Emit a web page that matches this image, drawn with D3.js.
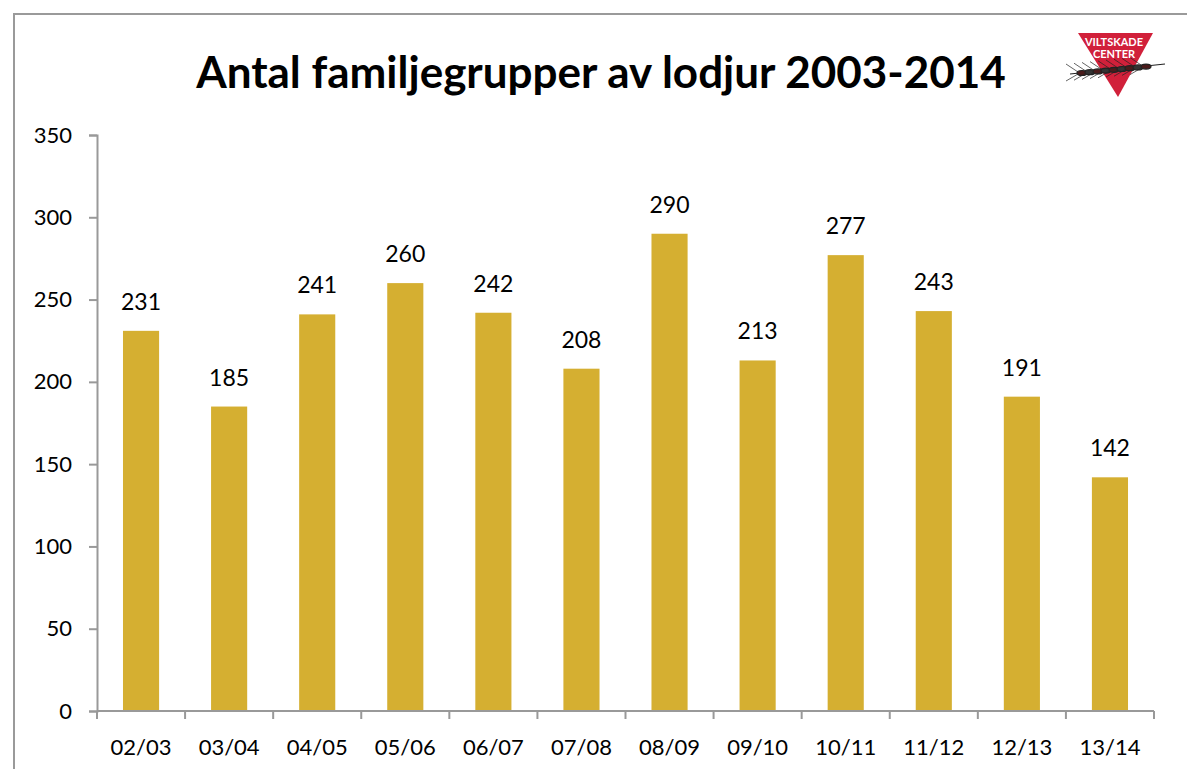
<!DOCTYPE html>
<html><head><meta charset="utf-8">
<script src="https://cdn.jsdelivr.net/npm/d3@7"></script>
<style>body{margin:0;background:#fff}svg{display:block}</style>
</head><body>
<svg id="c" width="1187" height="769"></svg>
<script>
const categories = ["02/03","03/04","04/05","05/06","06/07","07/08","08/09","09/10","10/11","11/12","12/13","13/14"];
const values = [231,185,241,260,242,208,290,213,277,243,191,142];
const yTicks = [0,50,100,150,200,250,300,350];
const title = "Antal familjegrupper av lodjur 2003-2014";

const svg = d3.select("#c");
const font = "Lato, 'Open Sans', sans-serif";
// outer frame
svg.append("path").attr("d","M14,769 L14,14 L1187,14").attr("fill","none").attr("stroke","#9a9a9a").attr("stroke-width",2);

const x = d3.scaleBand().domain(categories).range([97,1154]).paddingInner(0.59).paddingOuter(0.295);
const y = d3.scaleLinear().domain([0,350]).range([711,135]);

svg.append("text").attr("x",601).attr("y",88).attr("text-anchor","middle")
  .attr("font-family",font).attr("font-weight","bold").attr("font-size",44).attr("fill","#000").text(title);

// bars
svg.selectAll("rect.bar").data(values).enter().append("rect")
  .attr("x",(d,i)=>x(categories[i])).attr("width",x.bandwidth())
  .attr("y",d=>y(d)).attr("height",d=>y(0)-y(d)).attr("fill","#D5AF31");
svg.selectAll("text.lab").data(values).enter().append("text")
  .attr("x",(d,i)=>x(categories[i])+x.bandwidth()/2).attr("y",d=>y(d)-21)
  .attr("text-anchor","middle").attr("font-family",font).attr("font-size",23).attr("fill","#000").text(d=>d);

// y axis
const ya = svg.append("g").attr("transform","translate(97,0)")
  .call(d3.axisLeft(y).tickValues(yTicks).tickSize(8).tickPadding(17));
ya.select(".domain").attr("stroke","#999").attr("stroke-width",2);
ya.selectAll(".tick line").attr("stroke","#999").attr("stroke-width",2);
ya.selectAll(".tick text").attr("font-family",font).attr("font-size",22).attr("fill","#000");

// x axis
const bounds = d3.range(categories.length+1).map(i=>97+i*(1154-97)/categories.length);
const xa = svg.append("g");
xa.append("line").attr("x1",97).attr("x2",1154).attr("y1",y(0)).attr("y2",y(0)).attr("stroke","#999").attr("stroke-width",2);
xa.selectAll("line.t").data(bounds).enter().append("line").attr("x1",d=>d).attr("x2",d=>d)
  .attr("y1",y(0)).attr("y2",y(0)+8).attr("stroke","#999").attr("stroke-width",2);
xa.selectAll("text").data(categories).enter().append("text")
  .attr("x",d=>x(d)+x.bandwidth()/2).attr("y",755).attr("text-anchor","middle")
  .attr("font-family",font).attr("font-size",22).attr("fill","#000").text(d=>d);

// logo
const lg = svg.append("g");
lg.append("path").attr("d","M1078,33 L1153,33 L1118,97 Z").attr("fill","#d1203a");
lg.append("text").attr("x",1114).attr("y",46).attr("text-anchor","middle").attr("font-family",font)
  .attr("font-weight","bold").attr("font-size",11).attr("fill","#fff").text("VILTSKADE");
lg.append("text").attr("x",1114).attr("y",58).attr("text-anchor","middle").attr("font-family",font)
  .attr("font-weight","bold").attr("font-size",11).attr("fill","#fff").text("CENTER");
const wheat = lg.append("g").attr("stroke","#222").attr("stroke-width",1.2).attr("fill","none");
wheat.append("line").attr("x1",1070).attr("y1",74).attr("x2",1165).attr("y2",64);
for(let i=0;i<9;i++){
  const cx=1078+i*8, cy=73-i*0.8;
  wheat.append("ellipse").attr("cx",cx+4).attr("cy",cy).attr("rx",5).attr("ry",2.5).attr("fill", i%2? "#333":"#4a1b1b");
  wheat.append("line").attr("x1",cx).attr("y1",cy-1).attr("x2",cx-12).attr("y2",cy-9).attr("stroke-width",0.7);
  wheat.append("line").attr("x1",cx).attr("y1",cy+1).attr("x2",cx-12).attr("y2",cy+8).attr("stroke-width",0.7);
}
</script>
</body></html>
